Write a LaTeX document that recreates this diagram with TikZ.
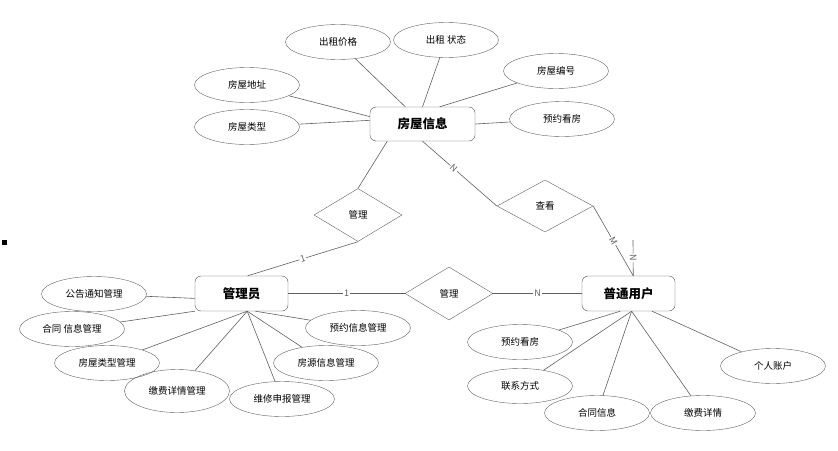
\documentclass[tikz,border=0pt]{standalone}
\usepackage{fontspec}
\setmainfont{Noto Sans CJK SC}
\usepackage{tikz}
\usetikzlibrary{shapes.geometric, positioning}
\definecolor{linegray}{RGB}{96, 96, 96}
\definecolor{boxgray}{RGB}{80, 80, 80}

\begin{document}
\begin{tikzpicture}[x=1pt, y=-1pt, font=\fontsize{9.5}{11}\selectfont,
  attr/.style={draw=linegray, ellipse, minimum width=105pt, minimum height=35pt, inner sep=0pt},
  entity/.style={draw=boxgray, rounded corners=6pt, minimum width=93pt, minimum height=35pt,
                 font=\fontsize{12.5}{14}\selectfont\bfseries},
  rel/.style={draw=linegray, diamond, minimum width=88pt, minimum height=53pt, inner sep=0pt},
  link/.style={linegray, line width=0.6pt},
  card/.style={fill=white, inner sep=1pt, font=\fontsize{9}{10}\selectfont}]
  \useasboundingbox (0,0) rectangle (838,450);

  \node[entity, minimum width=105pt, minimum height=34pt] (house) at (422.5,124) {房屋信息};
  \node[entity] (admin) at (241.5,293.5) {管理员};
  \node[entity] (user) at (628.5,293.5) {普通用户};

  \node[rel] (manage1) at (358,215) {管理};
  \node[rel, minimum width=96pt, minimum height=52pt] (view) at (545,206) {查看};
  \node[rel] (manage2) at (449,293.5) {管理};

  \node[fill=black, minimum size=5pt, inner sep=0pt] (dot) at (4.5,242.5) {};

  % house attributes
  \foreach \nm/\x/\y/\txt in {price/338/42/出租价格, state/446/40/出租\ 状态,
                             hno/556/71/房屋编号, addr/247/85/房屋地址,
                             htype/247/127/房屋类型, hbook/562/119/预约看房} {
    \node[attr] (\nm) at (\x,\y) {\txt};
  }
  % admin attributes
  \foreach \nm/\x/\y/\txt in {notice/94/294/公告通知管理, contractm/72/329/合同\ 信息管理,
                             typem/107/363/房屋类型管理, repairm/282/399/维修申报管理,
                             sourcem/326/363/房源信息管理, bookm/358/328/预约信息管理} {
    \node[attr] (\nm) at (\x,\y) {\txt};
  }
  \node[attr, minimum height=43pt] (feem) at (177,391) {缴费详情管理};
  % user attributes
  \foreach \nm/\x/\y/\txt in {ubook/520/342/预约看房, contact/520/386/联系方式,
                             contract/597/413/合同信息, fee/703/413/缴费详情,
                             account/773/366/个人账户} {
    \node[attr] (\nm) at (\x,\y) {\txt};
  }

  \foreach \a/\b in {price/house.135, state/house.north, hno/house.45, addr/house.172,
                     htype/house.176, hbook/house.east,
                     notice/admin.186, contractm/admin.south west, typem/admin.-72,
                     feem/admin.-72, repairm/admin.-72, sourcem/admin.-72, bookm/admin.-52,
                     ubook/user.-115, contact/user.-80, contract/user.-80, fee/user.-80,
                     account/user.-37} {
    \draw[link] (\a) -- (\b);
  }

  \draw[link] (house.-154) -- (manage1.north);
  \draw[link] (manage1.south) -- node[card, sloped] {1} (admin.71);
  \draw[link] (house.south) -- node[card, sloped, pos=0.42] {N} (view.west);
  \draw[link] (view.east) -- node[card, sloped, pos=0.5] {M} (user.75);
  \coordinate (ntop) at (633,240);
  \draw[link] (ntop) -- node[card, sloped] {N} (user.75);
  \draw[link] (admin.east) -- node[card, pos=0.5] {1} (manage2.west);
  \draw[link] (manage2.east) -- node[card, pos=0.5] {N} (user.west);
\end{tikzpicture}
\end{document}
